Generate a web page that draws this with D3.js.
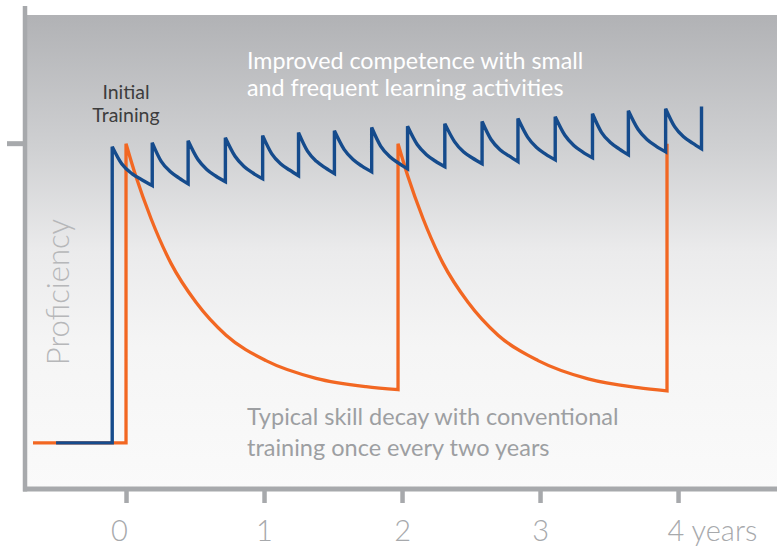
<!DOCTYPE html>
<html><head><meta charset="utf-8">
<script src="https://cdn.jsdelivr.net/npm/d3@7"></script>
<style>html,body{margin:0;padding:0;background:#fff;} svg{display:block}</style>
</head><body><svg id="chart" width="777" height="549"></svg>
<script>
// ---- data ----
const tickYears = [0, 1, 2, 3, 4];
const tickLabels = ["0", "1", "2", "3", "4 years"];
const proficiencyTicks = [100];

const orangeYears = [-0.674, 0,
  0, 0.072, 0.181, 0.326, 0.507, 0.725, 1.014, 1.377, 1.739, 1.971,
  1.971, 2.043, 2.152, 2.297, 2.478, 2.696, 2.986, 3.348, 3.710, 3.920,
  3.920];
const orangeValues = [0, 0,
  100, 89, 75, 60, 47, 36, 27.5, 21.6, 18.8, 17.8,
  100, 89, 75, 60, 47, 36, 27.5, 21.4, 18.5, 17.4,
  100];

const blueYears = [-0.507, -0.10,
  -0.10, -0.03, 0.045, 0.12, 0.19,
  0.19, 0.255, 0.32, 0.385, 0.45,
  0.45, 0.52, 0.585, 0.65, 0.72,
  0.72, 0.79, 0.855, 0.92, 0.99,
  0.99, 1.055, 1.12, 1.185, 1.25,
  1.25, 1.315, 1.38, 1.445, 1.51,
  1.51, 1.58, 1.645, 1.71, 1.78,
  1.78, 1.845, 1.91, 1.975, 2.04,
  2.04, 2.11, 2.175, 2.24, 2.31,
  2.31, 2.38, 2.445, 2.51, 2.58,
  2.58, 2.645, 2.71, 2.775, 2.84,
  2.84, 2.91, 2.975, 3.04, 3.11,
  3.11, 3.18, 3.245, 3.31, 3.38,
  3.38, 3.445, 3.51, 3.575, 3.64,
  3.64, 3.71, 3.775, 3.84, 3.91,
  3.91, 3.975, 4.04, 4.105, 4.17,
  4.17];
const blueValues = [0, 0,
  99.0, 93.2, 89.9, 87.8, 86.0,
  100.3, 94.1, 90.7, 88.5, 86.6,
  101.0, 94.8, 91.4, 89.2, 87.3,
  102.0, 95.8, 92.4, 90.2, 88.3,
  102.7, 96.7, 93.3, 91.2, 89.3,
  103.7, 97.5, 94.1, 91.9, 90.0,
  104.3, 98.1, 94.7, 92.5, 90.6,
  105.4, 99.2, 95.7, 93.5, 91.6,
  105.8, 99.7, 96.4, 94.2, 92.3,
  106.7, 100.7, 97.3, 95.2, 93.3,
  107.4, 101.4, 98.0, 95.9, 94.0,
  108.4, 102.2, 98.7, 96.5, 94.6,
  109.0, 102.8, 99.4, 97.2, 95.3,
  110.0, 103.8, 100.4, 98.2, 96.3,
  111.0, 104.8, 101.4, 99.2, 97.3,
  111.7, 105.7, 102.3, 100.2, 98.3,
  112.4];

const topNote = ["Improved competence with small", "and frequent learning activities"];
const bottomNote = ["Typical skill decay with conventional", "training once every two years"];
const initialNote = ["Initial", "Training"];
const yTitle = "Proficiency";

// ---- drawing ----
const svg = d3.select("#chart");
const FONT = "Lato, 'Open Sans', sans-serif";
const AXIS = "#a7a9ac";

const x = d3.scaleLinear().domain([-0.732, 4.717]).range([25, 777]);
const y = d3.scaleLinear().domain([-15.4, 143]).range([489, 15]);

const defs = svg.append("defs");
const grad = defs.append("linearGradient").attr("id", "bg").attr("x1", 0).attr("y1", 0).attr("x2", 0).attr("y2", 1);
[[0, "#b1b2b5"], [0.28, "#cfd0d2"], [0.5, "#ebebec"], [0.7, "#f5f5f5"], [1, "#fafafa"]]
  .forEach(([o, c]) => grad.append("stop").attr("offset", o).attr("stop-color", c));

svg.append("rect").attr("x", x.range()[0] + 2).attr("y", y.range()[1])
  .attr("width", x.range()[1] - x.range()[0]).attr("height", y.range()[0] - y.range()[1])
  .attr("fill", "url(#bg)");

// axes frame
svg.append("line").attr("x1", x.range()[0]).attr("x2", x.range()[0])
  .attr("y1", 6).attr("y2", y.range()[0] + 2.5)
  .attr("stroke", AXIS).attr("stroke-width", 4.5);
svg.append("line").attr("x1", x.range()[0] - 2).attr("x2", x.range()[1])
  .attr("y1", y.range()[0]).attr("y2", y.range()[0])
  .attr("stroke", AXIS).attr("stroke-width", 5);

// y tick
svg.selectAll(".ytick").data(proficiencyTicks).join("line").attr("class", "ytick")
  .attr("x1", 7).attr("x2", x.range()[0]).attr("y1", d => y(d)).attr("y2", d => y(d))
  .attr("stroke", AXIS).attr("stroke-width", 5);

// x axis ticks
const xAxis = d3.axisBottom(x).tickValues(tickYears)
  .tickFormat((d, i) => tickLabels[i]).tickSize(14).tickPadding(20);
const gx = svg.append("g").attr("transform", `translate(0,${y.range()[0]})`).call(xAxis);
gx.select(".domain").remove();
gx.selectAll(".tick line").attr("stroke", AXIS).attr("stroke-width", 4.5);
gx.selectAll(".tick text").attr("fill", AXIS).attr("font-family", FONT)
  .attr("font-size", 29).attr("font-weight", 300).attr("dy", "0.62em");
gx.selectAll(".tick text").filter((d, i) => i === tickLabels.length - 1)
  .attr("text-anchor", "start").attr("dx", -11);
gx.selectAll(".tick text").filter((d, i) => i === 0).attr("dx", -7);

// lines
function pathFrom(years, values) {
  const pts = years.map((t, i) => [x(t), y(values[i])]);
  const runs = [];
  let cur = [pts[0]];
  for (let i = 1; i < pts.length; i++) {
    if (years[i] === years[i - 1]) { runs.push(cur); cur = [pts[i]]; }
    else cur.push(pts[i]);
  }
  runs.push(cur);
  const gen = d3.line().curve(d3.curveMonotoneX);
  let d = "";
  runs.forEach((r, k) => {
    let s = r.length === 1 ? `M${r[0][0]},${r[0][1]}` : gen(r);
    if (k > 0) s = "L" + s.slice(1);
    d += s;
  });
  return d;
}

svg.append("path").attr("d", pathFrom(orangeYears, orangeValues))
  .attr("fill", "none").attr("stroke", "#f26722").attr("stroke-width", 3.3)
  .attr("stroke-linejoin", "miter");
svg.append("path").attr("d", pathFrom(blueYears, blueValues))
  .attr("fill", "none").attr("stroke", "#154b8c").attr("stroke-width", 3.4)
  .attr("stroke-linejoin", "miter");

// texts
function lines(arr, xPos, yPos, dy, opts) {
  const t = svg.append("text").attr("x", xPos).attr("y", yPos)
    .attr("font-family", FONT).attr("font-size", opts.size).attr("fill", opts.fill)
    .attr("font-weight", opts.weight || 400).attr("text-anchor", opts.anchor || "start");
  arr.forEach((s, i) => t.append("tspan").attr("x", xPos).attr("dy", i === 0 ? 0 : dy).text(s));
  return t;
}
lines(topNote, 247, 69, 27, { size: 23.3, fill: "#ffffff" });
lines(bottomNote, 247, 425, 31, { size: 23.5, fill: "#9d9fa2" });
lines(initialNote, 126, 99, 23, { size: 19.5, fill: "#3d3d3d", anchor: "middle", weight: 400 });

svg.append("text").attr("transform", "translate(69,292) rotate(-90)")
  .attr("text-anchor", "middle").attr("font-family", FONT).attr("font-size", 31)
  .attr("font-weight", 300).attr("fill", "#b6b7b9").text(yTitle);
</script></body></html>
